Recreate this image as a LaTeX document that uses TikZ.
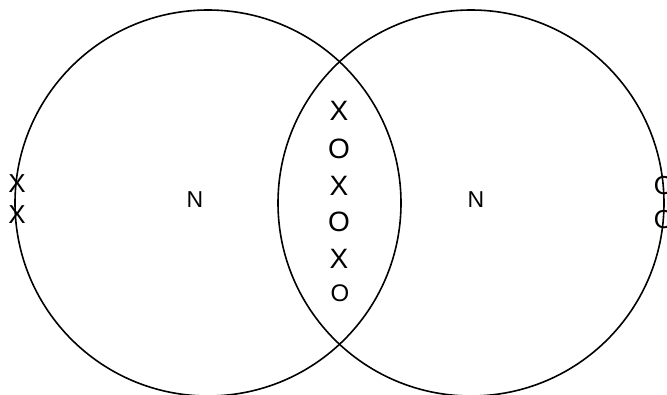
\documentclass[tikz,border=0pt]{standalone}
\usepackage{fontspec}
\setmainfont{Liberation Sans}
\usetikzlibrary{positioning}
\tikzset{ring/.style={draw,line width=1.6pt},sym/.style={inner sep=0pt,font=\fontsize{28}{28}\selectfont},edge/.style={sym,font=\fontsize{26}{26}\selectfont},small/.style={sym,font=\fontsize{24}{24}\selectfont},lbl/.style={inner sep=0pt,font=\fontsize{23}{23}\selectfont}}

\begin{document}
\begin{tikzpicture}[x=1pt,y=-1pt]
\useasboundingbox (0,0) rectangle (667,394);
\clip (0,0) rectangle (667,394);
\draw[ring] (208,203) circle[radius=193];
\draw[ring] (471,203) circle[radius=193];
\node[lbl] (nl) at (195,200) {N};
\node[lbl] (nr) at (476,200) {N};
\node[edge] (xa) at (17,184) {X};
\node[edge] (xb) at (17,215) {X};
\node[edge] (oa) at (664,186) {O};
\node[edge] (ob) at (664,220) {O};
\node[sym] (m1) at (339,111) {X};
\node[sym] (m2) at (339,149) {O};
\node[sym] (m3) at (339,186) {X};
\node[sym] (m4) at (339,222) {O};
\node[sym] (m5) at (339,259) {X};
\node[small] (m6) at (340,293) {O};
\end{tikzpicture}
\end{document}
